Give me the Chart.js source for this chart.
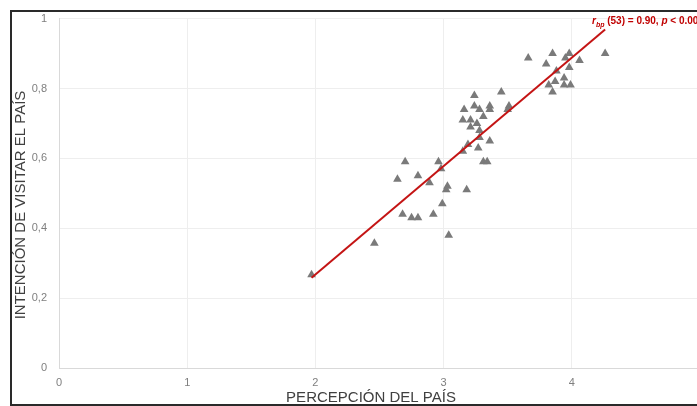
<!DOCTYPE html>
<html>
<head>
<meta charset="utf-8">
<script src="https://cdn.jsdelivr.net/npm/chart.js@4.4.1/dist/chart.umd.min.js"></script>
<style>
  html, body { margin: 0; padding: 0; background: #fff; }
  #wrap { position: relative; width: 697px; height: 406px; overflow: hidden; background: #fff; }
  #c { position: absolute; left: 0; top: 0; }
  #frame { position: absolute; left: 10px; top: 10px; width: 800px; height: 392px;
           border: 2px solid #2a2a2a; border-right: none; pointer-events: none; }
</style>
</head>
<body>
<div id="wrap">
  <canvas id="c" width="730" height="406" style="width:730px;height:406px"></canvas>
  <div id="frame"></div>
</div>
<script>
// Data
const percepcion = [
  3.66, 3.85, 3.98, 3.95, 4.06, 4.26, 3.80, 3.88, 3.98, 3.94, 3.87, 3.82, 3.94, 3.99, 3.85, 3.45, 3.51,
  3.24, 3.16, 3.24, 3.28, 3.36, 3.36, 3.50, 3.15, 3.21, 3.31, 3.26, 3.21, 3.28, 3.28, 3.36, 3.15, 3.19, 3.27, 3.31, 3.34,
  2.70, 2.96, 2.98, 2.80, 2.64, 2.89, 3.03, 3.02, 3.18, 2.99, 2.68, 2.75, 2.80, 2.92, 3.04,
  2.46, 1.97
];
const intencion = [
  0.887, 0.90, 0.90, 0.887, 0.88, 0.90, 0.87, 0.85, 0.86, 0.83, 0.82, 0.81, 0.81, 0.81, 0.79, 0.79, 0.75,
  0.78, 0.74, 0.75, 0.74, 0.75, 0.74, 0.74, 0.71, 0.71, 0.72, 0.70, 0.69, 0.68, 0.66, 0.65, 0.62, 0.64, 0.63, 0.59, 0.59,
  0.59, 0.59, 0.57, 0.55, 0.54, 0.53, 0.52, 0.51, 0.51, 0.47, 0.44, 0.43, 0.43, 0.44, 0.38,
  0.357, 0.267
];
// Fitted line end points
const trendX = [1.97, 4.26];
const trendY = [0.258, 0.969];
const xTicks = [0, 1, 2, 3, 4, 5];
const yTicks = [0, 0.2, 0.4, 0.6, 0.8, 1];
const xTitle = 'PERCEPCIÓN DEL PAÍS';
const yTitle = 'INTENCIÓN DE VISITAR EL PAÍS';

const points = percepcion.map((x, i) => ({ x: x, y: intencion[i] }));
const trend = trendX.map((x, i) => ({ x: x, y: trendY[i] }));

const FONT = '"Liberation Sans", Arial, sans-serif';

const extras = {
  id: 'extras',
  afterDraw(chart) {
    const ctx = chart.ctx;
    const ca = chart.chartArea;
    ctx.save();
    // axis titles
    ctx.fillStyle = '#404040';
    ctx.font = '15px ' + FONT;
    ctx.textAlign = 'center';
    ctx.textBaseline = 'alphabetic';
    ctx.fillText(xTitle, 371, 402);
    ctx.save();
    ctx.translate(25, 205);
    ctx.rotate(-Math.PI / 2);
    ctx.fillText(yTitle, 0, 0);
    ctx.restore();
    // annotation
    ctx.fillStyle = '#c00000';
    ctx.textAlign = 'left';
    let x = 592, y = 24;
    const seg = (t, f, dy) => { ctx.font = f; ctx.fillText(t, x, y + (dy || 0)); x += ctx.measureText(t).width; };
    seg('r', 'italic bold 10px ' + FONT);
    seg('bp', 'italic bold 7px ' + FONT, 3);
    seg(' (53) = 0.90, ', 'bold 10px ' + FONT);
    seg('p', 'italic bold 10px ' + FONT);
    seg(' < 0.001', 'bold 10px ' + FONT);
    ctx.restore();
  }
};

new Chart(document.getElementById('c'), {
  type: 'scatter',
  data: {
    datasets: [
      {
        type: 'line',
        data: trend,
        borderColor: '#c41414',
        borderWidth: 2,
        pointRadius: 0,
        fill: false,
        order: 0
      },
      {
        data: points,
        pointStyle: 'triangle',
        pointRadius: 5,
        backgroundColor: '#7a7a7a',
        borderWidth: 0,
        order: 1
      }
    ]
  },
  options: {
    responsive: false,
    animation: false,
    layout: { padding: { left: 0, right: 30, top: 16, bottom: 0 } },
    plugins: { legend: { display: false }, tooltip: { enabled: false } },
    scales: {
      x: {
        type: 'linear', min: 0, max: 5,
        afterBuildTicks(s) { s.ticks = xTicks.map(v => ({ value: v })); },
        afterFit(s) { s.height = 38; },
        grid: { color: '#eeeeee', drawTicks: false },
        border: { color: '#d9d9d9' },
        ticks: {
          padding: 8, color: '#7f7f7f', font: { size: 11, family: FONT },
          callback: v => (v === 5 ? '' : String(v))
        }
      },
      y: {
        type: 'linear', min: 0, max: 1,
        afterBuildTicks(s) { s.ticks = yTicks.map(v => ({ value: v })); },
        afterFit(s) { s.width = 59; },
        grid: { color: '#eeeeee', drawTicks: false },
        border: { color: '#d9d9d9' },
        ticks: {
          padding: 12, color: '#7f7f7f', font: { size: 11, family: FONT },
          callback: v => String(Math.round(v * 10) / 10).replace('.', ',')
        }
      }
    }
  },
  plugins: [extras]
});
</script>
</body>
</html>
